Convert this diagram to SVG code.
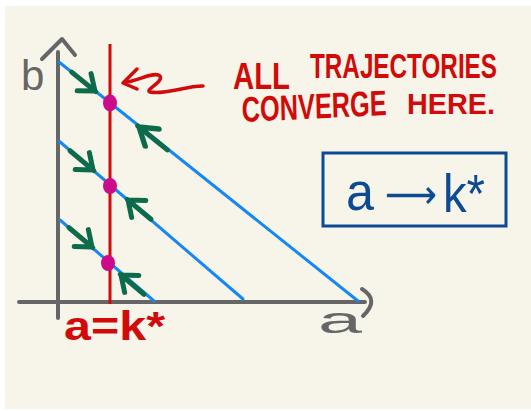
<svg xmlns="http://www.w3.org/2000/svg" width="531" height="411" viewBox="0 0 531 411">
<style>
.axis{stroke:#666;stroke-width:4;fill:none;stroke-linecap:round;stroke-linejoin:round}
.traj{stroke:#1688f5;stroke-width:3;fill:none;stroke-linecap:round}
.kline{stroke:#d10a0a;stroke-width:3;fill:none}
.garrow{stroke:#0b6b4b;stroke-width:5;fill:none;stroke-linecap:round;stroke-linejoin:round}
.dot{fill:#cc0a8a}
.red{fill:#d10a0a;font-family:"Liberation Sans",Arial,sans-serif;font-weight:bold}
.gray{fill:#666;font-family:"Liberation Sans",Arial,sans-serif}
.blue{fill:#0d4a94;font-family:"Liberation Sans","DejaVu Sans",Arial,sans-serif}
</style>
<defs>
<path id="ga" d="M-30,0 L1,0 M-14,-11 L0,0 L-14,11"/>
</defs>
<rect x="0" y="0" width="531" height="411" fill="#ffffff"/>
<rect x="5" y="6" width="526" height="403" fill="#f7f5e9"/>

<g id="axes">
<path class="axis" d="M58,52 L58,318"/>
<path class="axis" d="M42,59 L62,39 L75,55"/>
<path class="axis" d="M19,302 L365,302"/>
<path class="axis" d="M362,289 Q380,300 363,316"/>
<text class="gray" x="21" y="90" font-size="42">b</text>
<text class="gray" x="318" y="333" font-size="36" textLength="44" lengthAdjust="spacingAndGlyphs">a</text>
</g>

<g id="connectors">
<path class="traj" d="M59,62 L358,301"/>
<path class="traj" d="M59,141 L243,299"/>
<path class="traj" d="M60,220 L154,301"/>
<use href="#ga" class="garrow" transform="translate(95,91) rotate(39)"/>
<use href="#ga" class="garrow" transform="translate(93,170) rotate(40)"/>
<use href="#ga" class="garrow" transform="translate(92,247) rotate(40)"/>
<use href="#ga" class="garrow" transform="translate(139,127) rotate(219) scale(1.2,1)"/>
<use href="#ga" class="garrow" transform="translate(128,200) rotate(220)"/>
<use href="#ga" class="garrow" transform="translate(121,275) rotate(220)"/>
<path d="M137,69 L123,83 L137,89 M123,83 C140,80 155,71 160,76 C164,82 144,90 150,92 C165,95 185,86 203,86" fill="none" stroke="#d10a0a" stroke-width="3.5" stroke-linecap="round" stroke-linejoin="round"/>
</g>

<g id="equilibrium">
<path class="kline" d="M110,44 L110,304"/>
<ellipse class="dot" cx="110" cy="103" rx="7" ry="8.5"/>
<ellipse class="dot" cx="110" cy="186" rx="7" ry="8"/>
<ellipse class="dot" cx="108" cy="263" rx="7" ry="8"/>
<text class="red" x="64" y="340" font-size="40" textLength="101" lengthAdjust="spacingAndGlyphs">a=k*</text>
</g>

<g id="note">
<text class="red" transform="translate(233,89) scale(1,1.3)" font-size="29" textLength="57" lengthAdjust="spacingAndGlyphs">ALL</text>
<text class="red" transform="translate(310,78) scale(1,1.45)" font-size="23.6" textLength="187" lengthAdjust="spacingAndGlyphs">TRAJECTORIES</text>
<text class="red" transform="translate(242,122) scale(1,1.4) rotate(-2)" font-size="25.3" textLength="145" lengthAdjust="spacingAndGlyphs">CONVERGE</text>
<text class="red" transform="translate(407,114) scale(1,1.05)" font-size="28.8" textLength="88" lengthAdjust="spacingAndGlyphs">HERE.</text>
</g>

<g id="box">
<rect x="323" y="153" width="183" height="73" fill="none" stroke="#0d4a94" stroke-width="3"/>
<text class="blue" font-size="54"><tspan x="346" y="210" textLength="28" lengthAdjust="spacingAndGlyphs">a</tspan><tspan x="385" y="208" font-family="DejaVu Sans" font-size="40" textLength="52" lengthAdjust="spacingAndGlyphs">⟶</tspan><tspan x="443" y="212" textLength="42" lengthAdjust="spacingAndGlyphs">k*</tspan></text>
</g>
</svg>
